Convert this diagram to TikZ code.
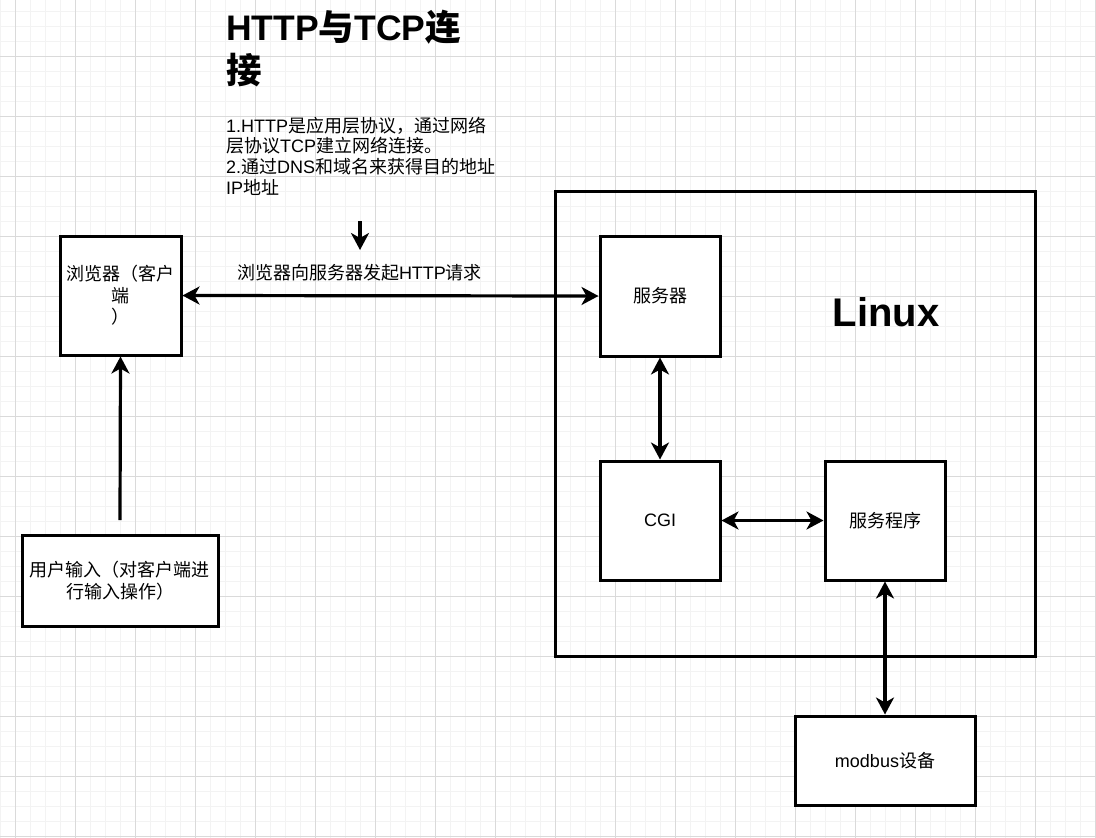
\documentclass[tikz,border=0pt]{standalone}
\usepackage{fontspec}
\setmainfont{Liberation Sans}
\newfontfamily\cjk{Noto Sans CJK SC}
\newcommand{\zh}[1]{{\cjk #1}}
\usetikzlibrary{arrows.meta}
\definecolor{gridmajor}{HTML}{DADADA}
\definecolor{gridminor}{HTML}{F3F3F3}

\begin{document}
\begin{tikzpicture}[x=1pt, y=-1pt,
    box/.style={draw, line width=3pt, fill=white, minimum width=120pt, minimum height=120pt,
        inner sep=2pt, align=center, font=\fontsize{18}{21.6}\selectfont},
    link/.style={line width=3.2pt, -{Stealth[length=17pt,width=18pt,inset=5pt]}},
    twoway/.style={line width=3.2pt, {Stealth[length=17pt,width=18pt,inset=5pt]}-{Stealth[length=17pt,width=18pt,inset=5pt]}},
    ]
    % Background and grid
    \fill[white] (0,0) rectangle (1096,838);
    \useasboundingbox (0,0) rectangle (1096,838);
    \foreach \x in {0.5,15.5,...,1095.5}
        \draw[gridminor, line width=1pt] (\x,0) -- (\x,838);
    \foreach \y in {11.5,26.5,...,837}
        \draw[gridminor, line width=1pt] (0,\y) -- (1096,\y);
    \foreach \x in {15.5,75.5,...,1095.5}
        \draw[gridmajor, line width=1pt] (\x,0) -- (\x,838);
    \foreach \y in {56.5,116.5,...,837}
        \draw[gridmajor, line width=1pt] (0,\y) -- (1096,\y);

    % Title and notes (base = last line)
    \node[anchor=base west, inner sep=0, align=left, font=\fontsize{35.5}{43}\selectfont\bfseries] (title) at (226,83)
        {HTTP\zh{与}TCP\zh{连}\\\zh{接}};
    \node[anchor=base west, inner sep=0, align=left, font=\fontsize{18}{20.7}\selectfont] (notes) at (226,194.3)
        {1.HTTP\zh{是应用层协议，通过网络}\\\zh{层协议}TCP\zh{建立网络连接。}\\2.\zh{通过}DNS\zh{和域名来获得目的地址}\\IP\zh{地址}};
    \coordinate (hintfrom) at (360,221);
    \coordinate (hintto) at (360,250);
    \draw[link] (hintfrom) -- (hintto);

    % Client side
    \node[box, minimum width=121pt, minimum height=119pt] (browser) at (120.5,295.5) {\zh{浏览器（客户}\\\zh{端}\\\zh{）}};
    \node[box, minimum width=196pt, minimum height=91pt] (userin) at (120,580.5) {\zh{用户输入（对客户端进}\\\zh{行输入操作）}};
    \coordinate (inputtop) at (120,520);
    \draw[link] (inputtop) -- (browser.south);

    % Linux host
    \node[draw, line width=3pt, minimum width=480pt, minimum height=465pt] (linuxbox) at (795,423.5) {};
    \node[anchor=base, inner sep=0, font=\fontsize{40}{48}\selectfont\bfseries] (linuxlabel) at (886,326.7) {Linux};
    \node[box] (server) at (660,296) {\zh{服务器}};
    \node[box, minimum height=119pt] (cgi) at (660,520.5) {CGI};
    \node[box, minimum height=119pt] (service) at (885,520.5) {\zh{服务程序}};
    \node[box, minimum width=180pt, minimum height=89pt] (modbus) at (885,760.5) {modbus\zh{设备}};

    % Connections
    \draw[twoway] (browser.east) -- (server.west);
    \node[anchor=base, inner sep=0, font=\fontsize{18}{21.6}\selectfont] (request) at (359.5,279)
        {\zh{浏览器向服务器发起}HTTP\zh{请求}};
    \draw[twoway] (server.south) -- (cgi.north);
    \draw[twoway] (cgi.east) -- (service.west);
    \draw[twoway] (service.south) -- (modbus.north);
\end{tikzpicture}
\end{document}
